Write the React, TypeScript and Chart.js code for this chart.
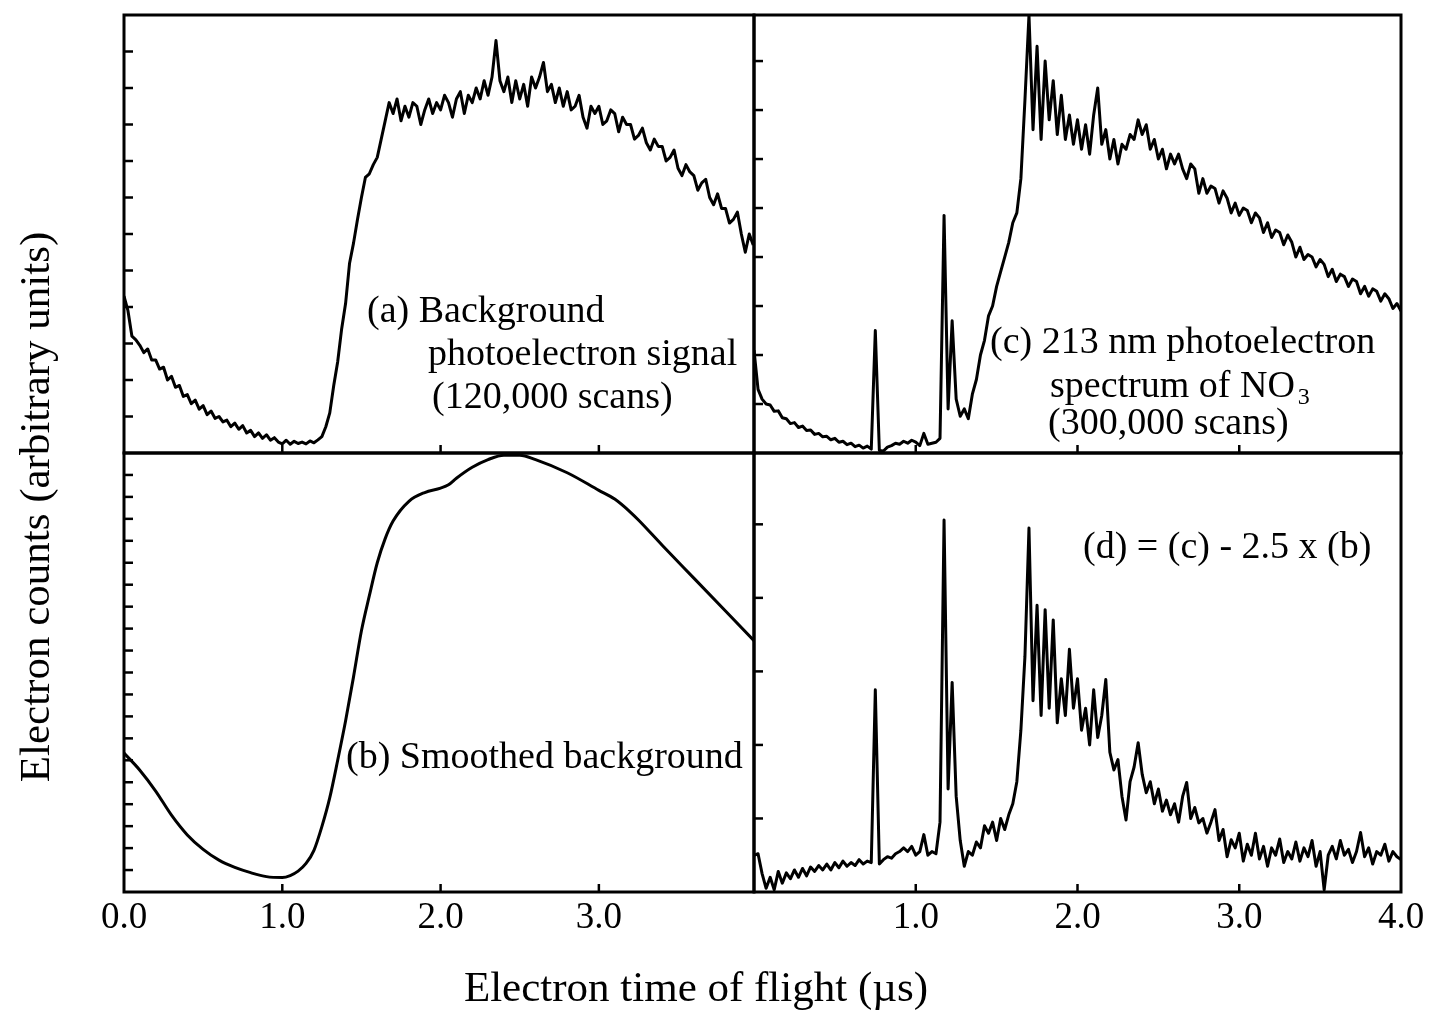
import React, { useEffect, useRef } from "react";
import { Chart, registerables } from "chart.js";

Chart.register(...registerables);

const PAGE_W = 1431;
const PAGE_H = 1013;

// sample times (microseconds)
const leftTimes = [
  0, 0.025, 0.05, 0.075, 0.1, 0.125, 0.15, 0.175,
  0.2, 0.225, 0.25, 0.275, 0.3, 0.325, 0.35, 0.375,
  0.4, 0.425, 0.45, 0.475, 0.5, 0.525, 0.55, 0.575,
  0.6, 0.625, 0.65, 0.675, 0.7, 0.725, 0.75, 0.775,
  0.8, 0.825, 0.85, 0.875, 0.9, 0.925, 0.95, 0.975,
  1.0, 1.025, 1.05, 1.075, 1.1, 1.125, 1.15, 1.175,
  1.2, 1.225, 1.25, 1.275, 1.3, 1.325, 1.35, 1.375,
  1.4, 1.425, 1.45, 1.475, 1.5, 1.525, 1.55, 1.575,
  1.6, 1.625, 1.65, 1.675, 1.7, 1.725, 1.75, 1.775,
  1.8, 1.825, 1.85, 1.875, 1.9, 1.925, 1.95, 1.975,
  2.0, 2.025, 2.05, 2.075, 2.1, 2.125, 2.15, 2.175,
  2.2, 2.225, 2.25, 2.275, 2.3, 2.325, 2.35, 2.375,
  2.4, 2.425, 2.45, 2.475, 2.5, 2.525, 2.55, 2.575,
  2.6, 2.625, 2.65, 2.675, 2.7, 2.725, 2.75, 2.775,
  2.8, 2.825, 2.85, 2.875, 2.9, 2.925, 2.95, 2.975,
  3.0, 3.025, 3.05, 3.075, 3.1, 3.125, 3.15, 3.175,
  3.2, 3.225, 3.25, 3.275, 3.3, 3.325, 3.35, 3.375,
  3.4, 3.425, 3.45, 3.475, 3.5, 3.525, 3.55, 3.575,
  3.6, 3.625, 3.65, 3.675, 3.7, 3.725, 3.75, 3.775,
  3.8, 3.825, 3.85, 3.875, 3.9, 3.925, 3.95, 3.975,
];

const rightTimes = [
  0, 0.025, 0.05, 0.075, 0.1, 0.125, 0.15, 0.175,
  0.2, 0.225, 0.25, 0.275, 0.3, 0.325, 0.35, 0.375,
  0.4, 0.425, 0.45, 0.475, 0.5, 0.525, 0.55, 0.575,
  0.6, 0.625, 0.65, 0.675, 0.7, 0.725, 0.75, 0.775,
  0.8, 0.825, 0.85, 0.875, 0.9, 0.925, 0.95, 0.975,
  1.0, 1.025, 1.05, 1.075, 1.1, 1.125, 1.15, 1.175,
  1.2, 1.225, 1.25, 1.275, 1.3, 1.325, 1.35, 1.375,
  1.4, 1.425, 1.45, 1.475, 1.5, 1.525, 1.55, 1.575,
  1.6, 1.625, 1.65, 1.675, 1.7, 1.725, 1.75, 1.775,
  1.8, 1.825, 1.85, 1.875, 1.9, 1.925, 1.95, 1.975,
  2.0, 2.025, 2.05, 2.075, 2.1, 2.125, 2.15, 2.175,
  2.2, 2.225, 2.25, 2.275, 2.3, 2.325, 2.35, 2.375,
  2.4, 2.425, 2.45, 2.475, 2.5, 2.525, 2.55, 2.575,
  2.6, 2.625, 2.65, 2.675, 2.7, 2.725, 2.75, 2.775,
  2.8, 2.825, 2.85, 2.875, 2.9, 2.925, 2.95, 2.975,
  3.0, 3.025, 3.05, 3.075, 3.1, 3.125, 3.15, 3.175,
  3.2, 3.225, 3.25, 3.275, 3.3, 3.325, 3.35, 3.375,
  3.4, 3.425, 3.45, 3.475, 3.5, 3.525, 3.55, 3.575,
  3.6, 3.625, 3.65, 3.675, 3.7, 3.725, 3.75, 3.775,
  3.8, 3.825, 3.85, 3.875, 3.9, 3.925, 3.95, 3.975,
  4.0,
];

// (a) Background photoelectron signal
const aCounts = [
  4.3, 3.9, 3.2, 3.1, 2.95, 2.75, 2.85, 2.55,
  2.55, 2.3, 2.35, 2.0, 2.1, 1.8, 1.85, 1.55,
  1.6, 1.35, 1.45, 1.2, 1.3, 1.05, 1.15, 0.95,
  1.0, 0.85, 0.9, 0.72, 0.82, 0.65, 0.75, 0.55,
  0.62, 0.45, 0.55, 0.4, 0.5, 0.35, 0.42, 0.3,
  0.25, 0.35, 0.24, 0.32, 0.26, 0.3, 0.25, 0.33,
  0.28, 0.36, 0.45, 0.72, 1.1, 1.85, 2.5, 3.4,
  4.1, 5.2, 5.75, 6.4, 7.0, 7.55, 7.65, 7.9,
  8.1, 8.6, 9.1, 9.6, 9.3, 9.7, 9.1, 9.5,
  9.2, 9.6, 9.5, 9.0, 9.4, 9.7, 9.3, 9.6,
  9.4, 9.8, 9.6, 9.2, 9.7, 9.9, 9.3, 9.8,
  9.6, 10.0, 9.7, 10.2, 9.8, 10.3, 11.3, 10.2,
  9.9, 10.3, 9.6, 10.2, 9.7, 10.1, 9.5, 10.3,
  10.0, 10.3, 10.7, 9.9, 10.1, 9.6, 10.0, 9.5,
  9.9, 9.4, 9.5, 9.8, 9.2, 8.9, 9.5, 9.3,
  9.5, 9.0, 9.1, 9.4, 9.3, 8.8, 9.2, 9.0,
  9.0, 8.6, 8.7, 8.9, 8.5, 8.3, 8.6, 8.4,
  8.4, 8.0, 8.1, 8.3, 7.8, 7.6, 7.9, 7.7,
  7.6, 7.2, 7.4, 7.5, 7.0, 6.8, 7.1, 6.7,
  6.7, 6.3, 6.4, 6.6, 6.0, 5.5, 6.0, 5.7,
];

// (b) Smoothed background
const bTimes = [
  0, 0.1, 0.2, 0.3, 0.4, 0.5, 0.6, 0.7, 0.8, 0.9, 1.0,
  1.05, 1.1, 1.15, 1.2, 1.25, 1.3, 1.35, 1.4, 1.45, 1.5, 1.55, 1.6, 1.65, 1.7,
  1.8, 1.9, 2.0, 2.05, 2.1, 2.2, 2.3, 2.4, 2.5, 2.6, 2.8, 3.0, 3.1, 3.2, 3.25, 3.4, 3.6, 3.8, 3.98,
];
const bCounts = [
  6.33, 5.55, 4.6, 3.5, 2.6, 1.94, 1.45, 1.12, 0.88, 0.7, 0.66,
  0.75, 0.95, 1.3, 1.9, 2.98, 4.3, 6.0, 7.8, 9.8, 11.9, 13.5, 15.0, 16.1, 16.9,
  17.8, 18.2, 18.4, 18.55, 18.85, 19.35, 19.7, 19.9, 19.9, 19.7, 19.1, 18.3, 17.9, 17.3, 16.95, 15.8, 14.3, 12.8, 11.45,
];

// (c) 213 nm photoelectron spectrum of NO3
const cCounts = [
  2.1, 1.3, 1.1, 1.0, 0.98, 0.85, 0.86, 0.72,
  0.7, 0.6, 0.62, 0.52, 0.55, 0.46, 0.47, 0.38,
  0.4, 0.33, 0.34, 0.27, 0.3, 0.22, 0.24, 0.17,
  0.2, 0.13, 0.16, 0.1, 0.14, 0.08, 2.5, 0.05,
  0.04, 0.12, 0.15, 0.2, 0.18, 0.24, 0.2, 0.26,
  0.22, 0.15, 0.4, 0.18, 0.2, 0.22, 0.3, 4.85,
  0.9, 2.7, 1.1, 0.75, 0.9, 0.7, 1.2, 1.5,
  2.0, 2.3, 2.8, 3.0, 3.4, 3.7, 4.0, 4.3,
  4.7, 4.9, 5.6, 7.2, 8.94, 6.6, 8.3, 6.4,
  8.0, 6.8, 7.6, 6.5, 7.3, 6.4, 6.9, 6.3,
  6.8, 6.2, 6.7, 6.1, 6.9, 7.45, 6.3, 6.6,
  6.0, 6.4, 5.9, 6.3, 6.2, 6.5, 6.4, 6.8,
  6.5, 6.7, 6.2, 6.4, 6.0, 6.2, 5.8, 6.1,
  5.9, 6.1, 5.8, 5.6, 5.9, 5.8, 5.3, 5.6,
  5.3, 5.45, 5.4, 5.1, 5.35, 5.2, 4.9, 5.1,
  4.85, 5.0, 4.95, 4.7, 4.9, 4.8, 4.5, 4.7,
  4.4, 4.55, 4.5, 4.25, 4.45, 4.3, 4.0, 4.2,
  3.95, 4.05, 4.0, 3.8, 3.95, 3.85, 3.6, 3.75,
  3.5, 3.65, 3.6, 3.4, 3.55, 3.5, 3.25, 3.4,
  3.2, 3.35, 3.3, 3.1, 3.25, 3.15, 2.95, 3.05,
  2.9,
];

// (d) = (c) - 2.5 x (b)
const dCounts = [
  0.5, 0.52, 0.25, 0.05, 0.2, 0.03, 0.28, 0.12,
  0.26, 0.18, 0.3, 0.2, 0.32, 0.22, 0.34, 0.28,
  0.36, 0.3, 0.38, 0.3, 0.4, 0.33, 0.42, 0.35,
  0.4, 0.36, 0.44, 0.38, 0.42, 0.4, 2.75, 0.38,
  0.44, 0.48, 0.46, 0.52, 0.55, 0.6, 0.55, 0.62,
  0.5, 0.55, 0.78, 0.5, 0.55, 0.52, 0.95, 5.06,
  1.4, 2.85, 1.3, 0.7, 0.35, 0.55, 0.5, 0.68,
  0.6, 0.9, 0.8, 0.95, 0.7, 1.0, 0.85, 1.05,
  1.2, 1.5, 2.2, 3.2, 4.95, 2.6, 3.9, 2.4,
  3.84, 2.5, 3.7, 2.3, 2.9, 2.4, 3.3, 2.5,
  2.9, 2.2, 2.5, 2.0, 2.75, 2.1, 2.4, 2.89,
  1.9, 1.66, 1.8, 1.3, 0.98, 1.5, 1.7, 2.03,
  1.6, 1.35, 1.5, 1.2, 1.4, 1.1, 1.25, 1.05,
  1.2, 0.95, 1.3, 1.49, 1.0, 1.15, 0.94, 1.0,
  0.8, 0.95, 1.12, 0.7, 0.85, 0.48, 0.71, 0.6,
  0.8, 0.42, 0.65, 0.5, 0.8, 0.45, 0.62, 0.35,
  0.6, 0.5, 0.72, 0.4, 0.55, 0.45, 0.68, 0.42,
  0.6, 0.48, 0.7, 0.35, 0.55, 0.03, 0.5, 0.62,
  0.45, 0.7, 0.5, 0.58, 0.4, 0.55, 0.81, 0.48,
  0.6, 0.38, 0.55, 0.5, 0.65, 0.42, 0.55, 0.48,
  0.44,
];

// axis ticks
const aYTicks = [1, 2, 3, 4, 5, 6, 7, 8, 9, 10, 11];
const bYTicks = [1, 2, 3, 4, 5, 6, 7, 8, 9, 10, 11, 12, 13, 14, 15, 16, 17, 18, 19];
const cYTicks = [1, 2, 3, 4, 5, 6, 7, 8];
const dYTicks = [1, 2, 3, 4, 5];
const xTickMarks = [1, 2, 3];
const leftTickValues = [0, 1, 2, 3];
const leftTickLabels = ["0.0", "1.0", "2.0", "3.0"];
const rightTickValues = [1, 2, 3, 4];
const rightTickLabels = ["1.0", "2.0", "3.0", "4.0"];

const xTitle = "Electron time of flight (\u00b5s)";
const yTitle = "Electron counts (arbitrary units)";

const SERIF = '"Liberation Serif", "Times New Roman", serif';

type TextItem = { text: string; x: number; y: number; size: number; sub?: string };

type PanelDef = {
  key: string;
  rect: { l: number; t: number; r: number; b: number };
  xMax: number;
  yMax: number;
  times: number[];
  counts: number[];
  smooth: boolean;
  yTicks: number[];
  xTicks: number[];
  tickValues: number[];
  tickLabels: string[];
  texts: TextItem[];
  titles: boolean;
};

const panels: PanelDef[] = [
  {
    key: "a",
    rect: { l: 124, t: 15, r: 754, b: 453 },
    xMax: 3.98,
    yMax: 12,
    times: leftTimes,
    counts: aCounts,
    smooth: false,
    yTicks: aYTicks,
    xTicks: xTickMarks,
    tickValues: [],
    tickLabels: [],
    texts: [
      { text: "(a) Background", x: 367, y: 312, size: 38 },
      { text: "photoelectron signal", x: 428, y: 355, size: 38 },
      { text: "(120,000 scans)", x: 432, y: 398, size: 38 },
    ],
    titles: false,
  },
  {
    key: "b",
    rect: { l: 124, t: 453, r: 754, b: 892 },
    xMax: 3.98,
    yMax: 20,
    times: bTimes,
    counts: bCounts,
    smooth: true,
    yTicks: bYTicks,
    xTicks: xTickMarks,
    tickValues: leftTickValues,
    tickLabels: leftTickLabels,
    texts: [{ text: "(b) Smoothed background", x: 346, y: 758, size: 38 }],
    titles: true,
  },
  {
    key: "c",
    rect: { l: 754, t: 15, r: 1401, b: 453 },
    xMax: 4.0,
    yMax: 8.94,
    times: rightTimes,
    counts: cCounts,
    smooth: false,
    yTicks: cYTicks,
    xTicks: xTickMarks,
    tickValues: [],
    tickLabels: [],
    texts: [
      { text: "(c) 213 nm photoelectron", x: 990, y: 343, size: 38 },
      { text: "spectrum of NO", x: 1050, y: 387, size: 38, sub: "3" },
      { text: "(300,000 scans)", x: 1048, y: 424, size: 38 },
    ],
    titles: false,
  },
  {
    key: "d",
    rect: { l: 754, t: 453, r: 1401, b: 892 },
    xMax: 4.0,
    yMax: 5.97,
    times: rightTimes,
    counts: dCounts,
    smooth: false,
    yTicks: dYTicks,
    xTicks: xTickMarks,
    tickValues: rightTickValues,
    tickLabels: rightTickLabels,
    texts: [{ text: "(d) = (c) - 2.5 x (b)", x: 1083, y: 548, size: 38 }],
    titles: false,
  },
];

function makePlugin(p: PanelDef) {
  return {
    id: "frame_" + p.key,
    afterDatasetsDraw(chart: any) {
      const { ctx, chartArea: ca, scales } = chart;
      ctx.save();
      ctx.strokeStyle = "#000";
      ctx.fillStyle = "#000";
      ctx.lineCap = "butt";
      // frame
      ctx.lineWidth = 3;
      ctx.strokeRect(ca.left, ca.top, ca.right - ca.left, ca.bottom - ca.top);
      // inward y ticks
      ctx.lineWidth = 2.5;
      for (const v of p.yTicks) {
        const y = scales.y.getPixelForValue(v);
        ctx.beginPath();
        ctx.moveTo(ca.left, y);
        ctx.lineTo(ca.left + 9, y);
        ctx.stroke();
      }
      // inward x ticks
      for (const v of p.xTicks) {
        const x = scales.x.getPixelForValue(v);
        ctx.beginPath();
        ctx.moveTo(x, ca.bottom);
        ctx.lineTo(x, ca.bottom - 8);
        ctx.stroke();
      }
      // tick labels
      ctx.font = `37px ${SERIF}`;
      ctx.textAlign = "center";
      ctx.textBaseline = "middle";
      p.tickLabels.forEach((lab, i) => {
        const x = scales.x.getPixelForValue(p.tickValues[i]);
        ctx.fillText(lab, x, 918);
      });
      // annotations
      ctx.textAlign = "left";
      for (const t of p.texts) {
        ctx.font = `${t.size}px ${SERIF}`;
        ctx.fillText(t.text, t.x, t.y);
        if (t.sub) {
          const w = ctx.measureText(t.text).width;
          ctx.font = `${Math.round(t.size * 0.62)}px ${SERIF}`;
          ctx.fillText(t.sub, t.x + w + 3, t.y + 11);
        }
      }
      if (p.titles) {
        ctx.font = `43px ${SERIF}`;
        ctx.textAlign = "center";
        ctx.fillText(xTitle, 696, 990);
        ctx.save();
        ctx.translate(38, 507);
        ctx.rotate(-Math.PI / 2);
        ctx.fillText(yTitle, 0, 0);
        ctx.restore();
      }
      ctx.restore();
    },
  };
}

function PanelChart({ p }: { p: PanelDef }) {
  const ref = useRef<HTMLCanvasElement | null>(null);
  useEffect(() => {
    if (!ref.current) return;
    const pts = p.times.map((t, i) => ({ x: t, y: p.counts[i] }));
    const chart = new Chart(ref.current, {
      type: "line",
      data: {
        datasets: [
          {
            data: pts,
            borderColor: "#000",
            borderWidth: 3,
            pointRadius: 0,
            fill: false,
            tension: p.smooth ? 0.4 : 0,
            cubicInterpolationMode: p.smooth ? "monotone" : "default",
            borderJoinStyle: "round",
          } as any,
        ],
      },
      options: {
        responsive: false,
        animation: false,
        devicePixelRatio: 1,
        events: [],
        layout: {
          padding: {
            left: p.rect.l,
            top: p.rect.t,
            right: PAGE_W - p.rect.r,
            bottom: PAGE_H - p.rect.b,
          },
        },
        plugins: { legend: { display: false }, tooltip: { enabled: false } },
        scales: {
          x: { type: "linear", min: 0, max: p.xMax, display: false },
          y: { type: "linear", min: 0, max: p.yMax, display: false },
        },
      },
      plugins: [makePlugin(p)],
    });
    return () => chart.destroy();
  }, [p]);
  return (
    <canvas
      ref={ref}
      width={PAGE_W}
      height={PAGE_H}
      style={{ position: "absolute", left: 0, top: 0, width: PAGE_W, height: PAGE_H }}
    />
  );
}

export default function App() {
  return (
    <div
      style={{
        position: "absolute",
        left: 0,
        top: 0,
        width: PAGE_W,
        height: PAGE_H,
        background: "#fff",
        overflow: "hidden",
      }}
    >
      {panels.map((p) => (
        <PanelChart key={p.key} p={p} />
      ))}
    </div>
  );
}
